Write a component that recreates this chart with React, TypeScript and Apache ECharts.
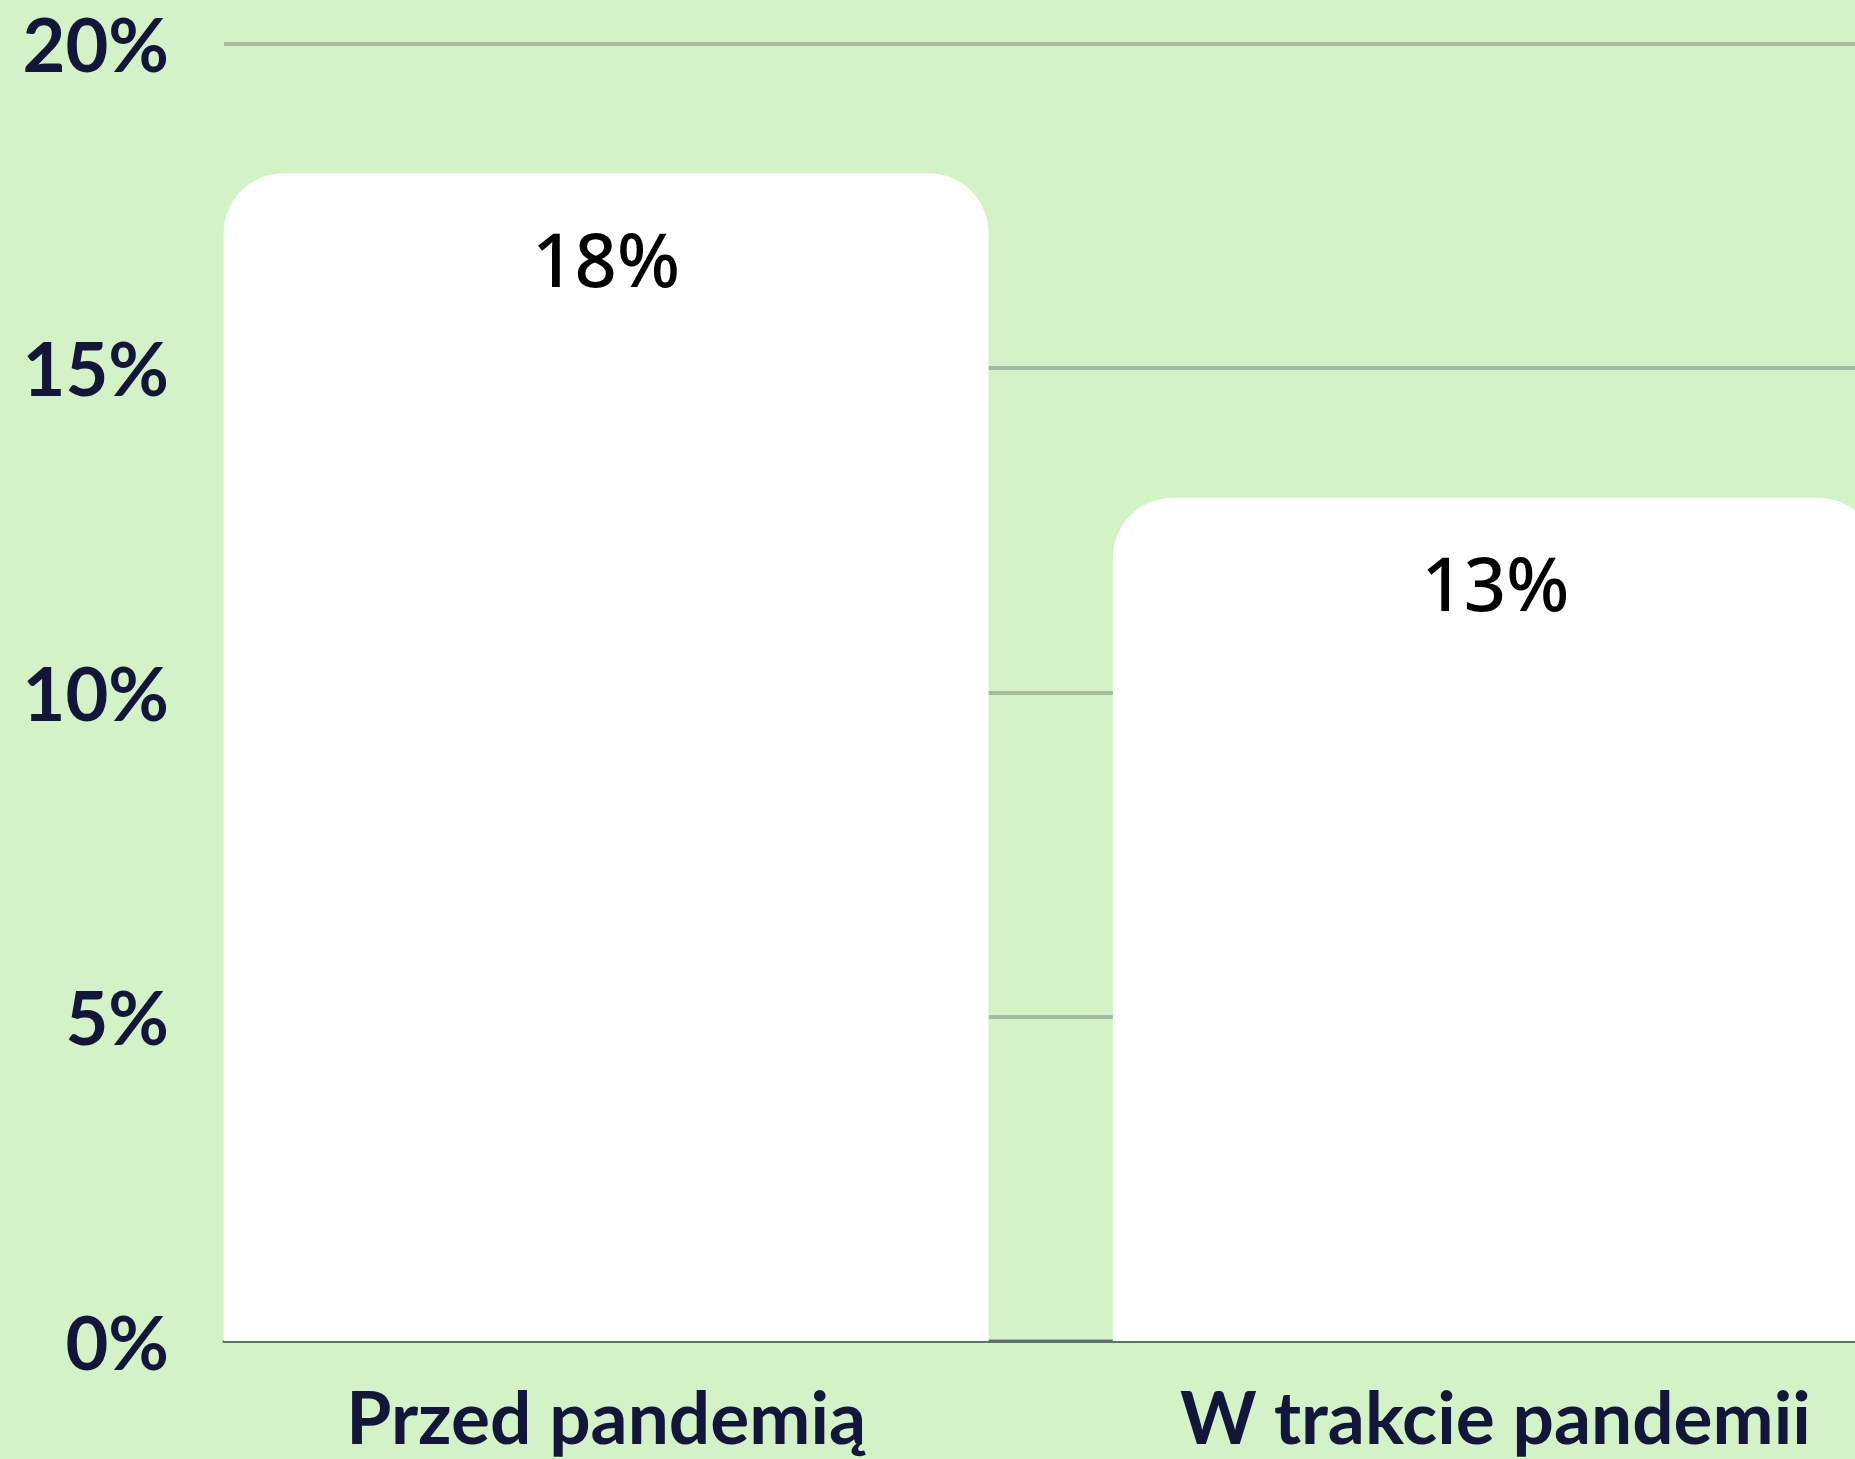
import React, { useEffect, useRef } from "react";
import * as echarts from "echarts";

const categories = ["Przed pandemią", "W trakcie pandemii"];
const values = [18, 13];
const yTicks = { min: 0, max: 20, interval: 5 };

const BG = "#d3f2c6";
const TEXT = "#12163a";

const VIEW_W = 1855;
const VIEW_H = 1459;
const CHART_W = 1940;

export default function App() {
  const ref = useRef<HTMLDivElement>(null);
  useEffect(() => {
    document.body.style.margin = "0";
    const chart = echarts.init(ref.current!, null, { renderer: "svg" });
    chart.setOption({
      animation: false,
      backgroundColor: BG,
      grid: [
        { left: 224, right: CHART_W - VIEW_W, top: 43.5, bottom: 118 },
        { left: 161.5, right: 0, top: 43.5, bottom: 118 },
      ],
      xAxis: [
        {
          gridIndex: 0,
          type: "value",
          min: 0,
          max: 1,
          axisLabel: { show: false },
          axisTick: { show: false },
          splitLine: { show: false },
          axisLine: { show: true, lineStyle: { color: "#5f6f6e", width: 3 } },
        },
        {
          gridIndex: 1,
          type: "category",
          data: categories,
          axisLine: { show: false },
          axisTick: { show: false },
          axisLabel: {
            color: TEXT,
            fontFamily: "Lato",
            fontWeight: "bold",
            fontSize: 73,
            margin: 38,
          },
        },
      ],
      yAxis: [
        {
          gridIndex: 0,
          type: "value",
          min: yTicks.min,
          max: yTicks.max,
          interval: yTicks.interval,
          axisLine: { show: false },
          axisTick: { show: false },
          axisLabel: {
            formatter: "{value}%",
            color: TEXT,
            fontFamily: "Lato",
            fontWeight: "bold",
            fontSize: 74,
            margin: 55,
          },
          splitLine: { show: true, lineStyle: { color: "#a3bba0", width: 4 } },
        },
        {
          gridIndex: 1,
          type: "value",
          min: yTicks.min,
          max: yTicks.max,
          interval: yTicks.interval,
          show: false,
          splitLine: { show: false },
        },
      ],
      series: [
        {
          type: "bar",
          xAxisIndex: 1,
          yAxisIndex: 1,
          data: values,
          barWidth: 765,
          itemStyle: { color: "#ffffff", borderRadius: [60, 60, 0, 0] },
          label: {
            show: true,
            position: "insideTop",
            distance: 48,
            formatter: "{c}%",
            color: "#000000",
            fontFamily: "Noto Sans",
            fontWeight: 500,
            fontSize: 74,
          },
        },
      ],
    });
    return () => chart.dispose();
  }, []);
  return (
    <div style={{ width: VIEW_W, height: VIEW_H, overflow: "hidden", position: "relative" }}>
      <div ref={ref} style={{ width: CHART_W, height: VIEW_H }} />
    </div>
  );
}
